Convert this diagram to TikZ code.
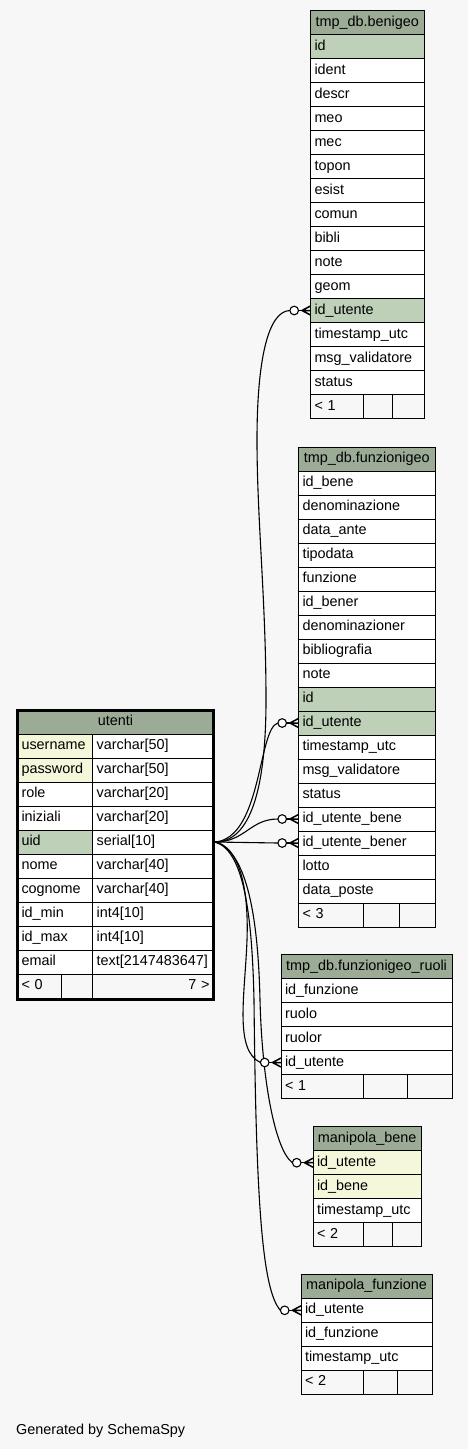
\documentclass[tikz,border=0pt]{standalone}
\usepackage{fontspec}
\setmainfont{Liberation Sans}
\usetikzlibrary{calc}
\definecolor{bgc}{HTML}{F7F7F7}
\definecolor{hdrc}{HTML}{9BAB96}
\definecolor{pkc}{HTML}{BED1B8}
\definecolor{idxc}{HTML}{F4F7DA}
\newcommand\mkcell[7]{%
  \pgfmathsetmacro\mkcellw{#4-8}%
  \node[cellbox, fill=#5, minimum width=#4pt, text width=\mkcellw pt, align=#6] (#1) at (#2,#3) {#7};}
\newcommand\crowo[1]{%
  \draw[connline] ($(#1.west)+(-12,0)$) -- ($(#1.west)+(-8.5,0)$);
  \draw[crowline] ($(#1.west)+(0,-4.5)$) -- ($(#1.west)+(-8.5,0)$) -- ($(#1.west)+(0,4.5)$)
                  ($(#1.west)+(-8.5,0)$) -- (#1.west);
  \draw[circline] ($(#1.west)+(-16.3,0)$) circle (4.3);}
\begin{document}
\begin{tikzpicture}[x=1pt,y=-1pt,
  every node/.style={font=\fontsize{14.4}{17}\selectfont},
  cellbox/.style={draw=black, line width=1pt, anchor=north west, minimum height=24pt,
    inner xsep=4pt, inner ysep=0pt, outer sep=0pt, text height=10.5pt, text depth=3.5pt},
  connline/.style={line width=1.1pt},
  crowline/.style={line width=1.5pt, line join=round},
  circline/.style={line width=1.1pt, fill=white, draw=black}]
\fill[bgc] (0,0) rectangle (468,1449);
\useasboundingbox (0,0) rectangle (468,1449);

% ---------------- tmp_db.benigeo
\mkcell{bh}{310.5}{10.5}{113.5}{hdrc}{center}{tmp\_db.benigeo}
\foreach \nm/\tx/\fl [count=\i] in {id/id/pkc, ident/ident/white, descr/descr/white,
  meo/meo/white, mec/mec/white, topon/topon/white, esist/esist/white, comun/comun/white,
  bibli/bibli/white, note/note/white, geom/geom/white, idutente/id\_utente/pkc,
  timestamputc/timestamp\_utc/white, msgvalidatore/msg\_validatore/white, status/status/white}
  {\mkcell{b\nm}{310.5}{10.5+24*\i}{113.5}{\fl}{left}{\tx}}
\mkcell{bf1}{310.5}{394.5}{52.8}{bgc}{left}{< 1}
\mkcell{bf2}{363.3}{394.5}{29.4}{bgc}{left}{}
\mkcell{bf3}{392.7}{394.5}{31.3}{bgc}{left}{}

% ---------------- tmp_db.funzionigeo
\mkcell{fh}{298.5}{447}{136.5}{hdrc}{center}{tmp\_db.funzionigeo}
\foreach \nm/\tx/\fl [count=\i] in {idbene/id\_bene/white, denominazione/denominazione/white,
  dataante/data\_ante/white, tipodata/tipodata/white, funzione/funzione/white,
  idbener/id\_bener/white, denominazioner/denominazioner/white, bibliografia/bibliografia/white,
  note/note/white, id/id/pkc, idutente/id\_utente/pkc, timestamputc/timestamp\_utc/white,
  msgvalidatore/msg\_validatore/white, status/status/white, idutentebene/id\_utente\_bene/white,
  idutentebener/id\_utente\_bener/white, lotto/lotto/white, dataposte/data\_poste/white}
  {\mkcell{f\nm}{298.5}{447+24*\i}{136.5}{\fl}{left}{\tx}}
\mkcell{ff1}{298.5}{903}{64.8}{bgc}{left}{< 3}
\mkcell{ff2}{363.3}{903}{35.7}{bgc}{left}{}
\mkcell{ff3}{399}{903}{36}{bgc}{left}{}

% ---------------- tmp_db.funzionigeo_ruoli
\mkcell{rh}{281}{954.5}{171}{hdrc}{center}{tmp\_db.funzionigeo\_ruoli}
\foreach \nm/\tx/\fl [count=\i] in {idfunzione/id\_funzione/white, ruolo/ruolo/white,
  ruolor/ruolor/white, idutente/id\_utente/white}
  {\mkcell{r\nm}{281}{954.5+24*\i}{171}{\fl}{left}{\tx}}
\mkcell{rf1}{281}{1074.5}{82.3}{bgc}{left}{< 1}
\mkcell{rf2}{363.3}{1074.5}{44.4}{bgc}{left}{}
\mkcell{rf3}{407.7}{1074.5}{44.3}{bgc}{left}{}

% ---------------- manipola_bene
\mkcell{mbh}{313}{1126.7}{108.3}{hdrc}{center}{manipola\_bene}
\foreach \nm/\tx/\fl [count=\i] in {idutente/id\_utente/idxc, idbene/id\_bene/idxc,
  timestamputc/timestamp\_utc/white}
  {\mkcell{mb\nm}{313}{1126.7+24*\i}{108.3}{\fl}{left}{\tx}}
\mkcell{mbf1}{313}{1222.7}{50.7}{bgc}{left}{< 2}
\mkcell{mbf2}{363.7}{1222.7}{28.3}{bgc}{left}{}
\mkcell{mbf3}{392}{1222.7}{29.3}{bgc}{left}{}

% ---------------- manipola_funzione
\mkcell{mfh}{301}{1274.3}{131}{hdrc}{center}{manipola\_funzione}
\foreach \nm/\tx/\fl [count=\i] in {idutente/id\_utente/white, idfunzione/id\_funzione/white,
  timestamputc/timestamp\_utc/white}
  {\mkcell{mf\nm}{301}{1274.3+24*\i}{131}{\fl}{left}{\tx}}
\mkcell{mff1}{301}{1370.3}{62.7}{bgc}{left}{< 2}
\mkcell{mff2}{363.7}{1370.3}{33.3}{bgc}{left}{}
\mkcell{mff3}{397}{1370.3}{35}{bgc}{left}{}

% ---------------- utenti
\mkcell{uh}{17.5}{710}{196}{hdrc}{center}{utenti}
\foreach \nm/\tx/\fl/\ty [count=\i from 0] in {username/username/idxc/varchar[50],
  password/password/idxc/varchar[50], role/role/white/varchar[20],
  iniziali/iniziali/white/varchar[20], uid/uid/pkc/serial[10], nome/nome/white/varchar[40],
  cognome/cognome/white/varchar[40], idmin/id\_min/white/int4[10],
  idmax/id\_max/white/int4[10], email/email/white/text[2147483647]}
  {\mkcell{u\nm}{17.5}{734+24*\i}{75.2}{\fl}{left}{\tx}
   \mkcell{u\nm t}{92.7}{734+24*\i}{120.8}{white}{left}{\ty}}
\mkcell{uf1}{17.5}{974}{43.5}{bgc}{left}{< 0}
\mkcell{uf2}{61}{974}{31.7}{bgc}{left}{}
\mkcell{uf3}{92.7}{974}{120.8}{bgc}{right}{7 >}
\draw[line width=3pt] (17.5,710.5) rectangle (213.5,999.5);

% ---------------- connectors
\coordinate (S) at ($(uuidt.east)+(1.5,0)$);
\coordinate (e1) at ($(bidutente.west)+(-20.6,0)$);
\coordinate (e2) at ($(fidutente.west)+(-20.6,0)$);
\coordinate (e3) at ($(fidutentebene.west)+(-20.6,0)$);
\coordinate (e4) at ($(fidutentebener.west)+(-20.6,0)$);
\coordinate (e5) at ($(ridutente.west)+(-20.6,0)$);
\coordinate (e6) at ($(mbidutente.west)+(-20.6,0)$);
\coordinate (e7) at ($(mfidutente.west)+(-20.6,0)$);

\draw[connline] (S) .. controls (250,842) and (266,790) .. (266,700)
  .. controls (266,600) and (257,520) .. (257,440)
  .. controls (257,360) and (268,311) .. (e1);
\draw[connline] (S) .. controls (262,838) and (258,728) .. (e2);
\draw[connline] (S) .. controls (245,842) and (250,819) .. (e3);
\draw[connline] (S) -- (e4);
\draw[connline] (S) .. controls (238,846) and (249,885) .. (247,940)
  .. controls (245,995) and (234,1050) .. (e5);
\draw[connline] (S) .. controls (245,850) and (258,910) .. (260,1000)
  .. controls (262,1080) and (275,1150) .. (e6);
\draw[connline] (S) .. controls (243,850) and (252,910) .. (254,1000)
  .. controls (256,1200) and (262,1290) .. (e7);

\crowo{bidutente}
\crowo{fidutente}
\crowo{fidutentebene}
\crowo{fidutentebener}
\crowo{ridutente}
\crowo{mbidutente}
\crowo{mfidutente}

\node[anchor=base west, inner sep=0pt] (gen) at (16,1434) {Generated by SchemaSpy};
\end{tikzpicture}
\end{document}
